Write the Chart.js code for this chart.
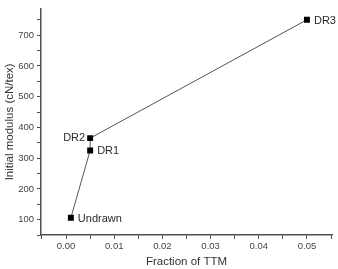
<!DOCTYPE html>
<html>
<head>
<meta charset="utf-8">
<script src="https://cdn.jsdelivr.net/npm/chart.js@4/dist/chart.umd.min.js"></script>
<style>
  html, body { margin: 0; padding: 0; background: #ffffff; }
  #wrap { width: 338px; height: 269px; }
</style>
</head>
<body>
<div id="wrap"><canvas id="c" width="338" height="269"></canvas></div>
<script>
// Data
const sampleNames = ["Undrawn", "DR1", "DR2", "DR3"];
const fractionTTM = [0.001, 0.005, 0.005, 0.05];
const initialModulus = [106, 325, 365, 750];
const xTickValues = [-0.005, 0, 0.005, 0.01, 0.015, 0.02, 0.025, 0.03, 0.035, 0.04, 0.045, 0.05, 0.055];
const yTickValues = [50, 100, 150, 200, 250, 300, 350, 400, 450, 500, 550, 600, 650, 700, 750];
const labelSide = ["right", "right", "left", "right"];

const FONT = "'Liberation Sans', Arial, Helvetica, sans-serif";
const AXIS = "#505050";

const pointLabelPlugin = {
  id: "pointLabels",
  afterDatasetsDraw(chart) {
    const meta = chart.getDatasetMeta(0);
    const ctx = chart.ctx;
    ctx.save();
    ctx.font = "11px " + FONT;
    ctx.fillStyle = "#2a2a2a";
    ctx.textBaseline = "middle";
    meta.data.forEach((pt, i) => {
      if (labelSide[i] === "left") {
        ctx.textAlign = "right";
        ctx.fillText(sampleNames[i], pt.x - 5, pt.y);
      } else {
        ctx.textAlign = "left";
        ctx.fillText(sampleNames[i], pt.x + 7, pt.y + 1);
      }
    });
    ctx.restore();
  }
};

const data = {
  datasets: [{
    data: fractionTTM.map((x, i) => ({ x: x, y: initialModulus[i] })),
    borderColor: "#555555",
    borderWidth: 1,
    backgroundColor: "#000000",
    pointBackgroundColor: "#000000",
    pointBorderColor: "#000000",
    pointBorderWidth: 0,
    pointStyle: "rect",
    pointRadius: 4.2,
    showLine: true,
    tension: 0
  }]
};

new Chart(document.getElementById("c"), {
  type: "scatter",
  data: data,
  plugins: [pointLabelPlugin],
  options: {
    responsive: false,
    animation: false,
    devicePixelRatio: 1,
    layout: { padding: { top: 4, right: 6, left: 0, bottom: 0 } },
    plugins: { legend: { display: false }, tooltip: { enabled: false } },
    scales: {
      x: {
        type: "linear",
        min: -0.0052,
        max: 0.0552,
        afterBuildTicks(scale) { scale.ticks = xTickValues.map(v => ({ value: v })); },
        afterFit(scale) { scale.height = 34; },
        border: { display: true, color: AXIS, width: 1.5 },
        grid: { drawOnChartArea: false, drawTicks: true, tickLength: 4, color: AXIS, tickWidth: 1 },
        ticks: {
          autoSkip: false,
          maxRotation: 0,
          padding: 2,
          color: "#444",
          font: { family: FONT, size: 9.5 },
          callback(v) {
            const k = Math.round(v * 1000);
            return (k % 10 === 0) ? (k / 1000).toFixed(2) : "";
          }
        },
        title: {
          display: true,
          text: "Fraction of TTM",
          color: "#333",
          font: { family: FONT, size: 11.5 },
          padding: { top: 0, bottom: 0 }
        }
      },
      y: {
        type: "linear",
        min: 50,
        max: 786,
        afterBuildTicks(scale) { scale.ticks = yTickValues.map(v => ({ value: v })); },
        afterFit(scale) { scale.width = 41; },
        border: { display: true, color: AXIS, width: 1.5 },
        grid: { drawOnChartArea: false, drawTicks: true, tickLength: 4, color: AXIS, tickWidth: 1 },
        ticks: {
          autoSkip: false,
          padding: 3,
          color: "#444",
          font: { family: FONT, size: 9.5 },
          callback(v) { return (v % 100 === 0) ? String(v) : ""; }
        },
        title: {
          display: true,
          text: "Initial modulus (cN/tex)",
          color: "#333",
          font: { family: FONT, size: 11.5 },
          padding: { top: 3, bottom: 0 }
        }
      }
    }
  }
});
</script>
</body>
</html>
